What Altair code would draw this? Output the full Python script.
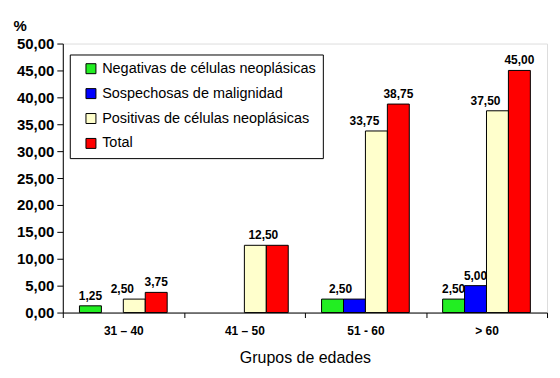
import altair as alt
import pandas as pd

groups = ["31 – 40", "41 – 50", "51 - 60", "> 60"]
series = ["Negativas de células neoplásicas", "Sospechosas de malignidad",
          "Positivas de células neoplásicas", "Total"]
negativas = [1.25, 0.0, 2.50, 2.50]
sospechosas = [0.0, 0.0, 2.50, 5.00]
positivas = [2.50, 12.50, 33.75, 37.50]
total = [3.75, 12.50, 38.75, 45.00]
colors = ["#22EE22", "#0000FF", "#FFFFCC", "#FF0000"]
y_ticks = [0, 5, 10, 15, 20, 25, 30, 35, 40, 45, 50]
# labels the original did not draw (overlapping duplicates)
hidden_labels = [("41 – 50", "Total"), ("51 - 60", "Sospechosas de malignidad")]
# labels drawn between two equal bars
shared_labels = [("41 – 50", "Positivas de células neoplásicas"),
                 ("51 - 60", "Negativas de células neoplásicas")]
# labels nudged left to avoid the neighbouring label
nudged_labels = [("31 – 40", "Positivas de células neoplásicas"),
                 ("51 - 60", "Positivas de células neoplásicas"),
                 ("> 60", "Positivas de células neoplásicas")]

rows = []
for s, vals in zip(series, [negativas, sospechosas, positivas, total]):
    for g, v in zip(groups, vals):
        if v > 0 and (g, s) not in hidden_labels:
            if (g, s) in shared_labels:
                kind = "shared"
            elif (g, s) in nudged_labels:
                kind = "nudged"
            else:
                kind = "own"
        else:
            kind = "none"
        rows.append({"grupo": g, "serie": s, "valor": v, "kind": kind})
df = pd.DataFrame(rows)

FONT = "Liberation Sans, Arial, sans-serif"

x_enc = alt.X(
    "grupo:N", sort=groups,
    scale=alt.Scale(paddingInner=0, paddingOuter=0),
    axis=alt.Axis(
        title="Grupos de edades", labelAngle=0, tickBand="extent",
        tickSize=5, labelPadding=8, labelFontSize=12, labelFontWeight="bold",
        labelFont=FONT, labelColor="black", domainColor="black", tickColor="black",
        titleFont=FONT, titleFontSize=16, titleFontWeight="normal", titleColor="black",
        titleY=50, titleBaseline="alphabetic",
    ),
)
xo_enc = alt.XOffset("serie:N", sort=series,
                     scale=alt.Scale(paddingInner=0, paddingOuter=0.76))
y_enc = alt.Y(
    "valor:Q", scale=alt.Scale(domain=[0, 50]),
    axis=alt.Axis(
        values=y_ticks, grid=False,
        labelExpr="replace(format(datum.value, '.2f'), '.', ',')",
        tickSize=6, labelPadding=3, labelFontSize=15, labelFontWeight="bold",
        labelFont=FONT, labelColor="black", domainColor="black", tickColor="black",
        title="%", titleAngle=0, titleAlign="left", titleX=-50, titleY=-13,
        titleBaseline="alphabetic", titleFont=FONT, titleFontSize=15,
        titleFontWeight="bold", titleColor="black",
    ),
)

base = alt.Chart(df)

bars = base.transform_filter("datum.valor > 0").mark_bar(
    stroke="black", strokeWidth=1
).encode(
    x=x_enc, xOffset=xo_enc, y=y_enc,
    color=alt.Color(
        "serie:N", sort=series,
        scale=alt.Scale(domain=series, range=colors),
        legend=alt.Legend(
            title=None, orient="none", legendX=7, legendY=11,
            symbolType="square", symbolSize=100, symbolStrokeColor="black",
            symbolStrokeWidth=1, symbolOffset=7, labelOffset=4,
            labelFont=FONT, labelFontSize=14.5, labelColor="black",
            rowPadding=9, padding=7, strokeColor="black",
            fillColor="white", labelLimit=400,
        ),
    ),
)

label_calc = "replace(format(datum.valor, '.2f'), '.', ',')"


def label_layer(kind, dx):
    return base.transform_filter(f"datum.kind == '{kind}'").transform_calculate(
        lab=label_calc
    ).mark_text(
        dy=-6, dx=dx, baseline="alphabetic", font=FONT, fontSize=12,
        fontWeight="bold", color="black"
    ).encode(x=x_enc, xOffset=xo_enc, y=y_enc, text="lab:N")


chart = alt.layer(
    bars, label_layer("own", 0), label_layer("shared", 8), label_layer("nudged", -12)
).properties(
    width=486, height=270,
    autosize=alt.AutoSizeParams(type="none"),
    padding={"left": 55, "top": 35, "right": 5, "bottom": 60},
).configure_view(
    stroke="#808080", strokeWidth=1
).configure_legend(
    strokeWidth=2.5
).configure(background="white")

chart.save("out.html", embed_options={"renderer": "svg", "actions": False})
